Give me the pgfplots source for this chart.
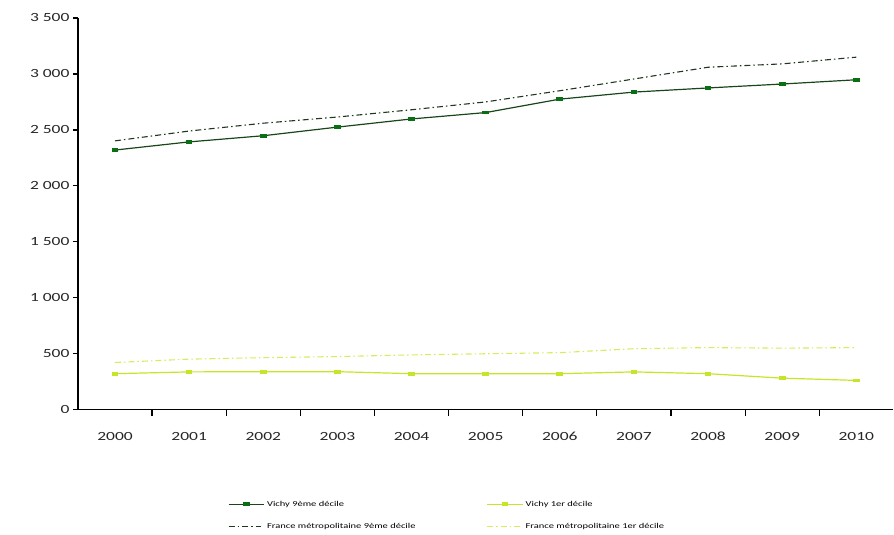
\documentclass[border=0pt]{standalone}
\usepackage{pgfplots}
\pgfplotsset{compat=1.18}
\usepackage{fontspec}
\setmainfont{Carlito}[FakeStretch=1.4]
\definecolor{dkgreen}{RGB}{25,70,25}
\definecolor{mkgreen}{RGB}{10,110,20}
\definecolor{frdark}{RGB}{30,55,30}
\definecolor{ltgreen}{RGB}{200,228,40}
\definecolor{frlight}{RGB}{215,236,90}
\begin{document}
\begin{tikzpicture}
\begin{axis}[name=ax,
  scale only axis, width=816pt, height=392pt,
  xmin=-0.5, xmax=10.5, ymin=0, ymax=3500,
  axis lines=left, axis line style={-, line width=1.2pt},
  xtick={0,...,10},
  xticklabels={2000,2001,2002,2003,2004,2005,2006,2007,2008,2009,2010},
  minor xtick={0.5,1.5,...,9.5},
  major x tick style={draw=none},
  minor tick length=6pt, major tick length=5pt,
  tick align=outside, tick style={black, line width=1.2pt},
  ytick={0,500,...,3500},
  /pgf/number format/assume math mode=true,
  /pgf/number format/1000 sep={\ },
  tick label style={font=\fontsize{12.5}{14}\selectfont, color=black!85},
  xticklabel style={yshift=-14pt},
  legend columns=2,
  legend cell align=left,
  legend style={draw=none, font=\fontsize{7.5}{8.5}\selectfont, at={(0.18,-0.222)}, anchor=north west,
    /tikz/every even column/.append style={column sep=69pt}, row sep=12pt},
  legend image code/.code={\draw[#1, mark repeat=2, mark phase=2] plot coordinates {(0pt,0pt) (18pt,0pt) (36pt,0pt)};},
]
\addplot[dkgreen, line width=1.2pt, mark=square*, mark size=1.7pt, mark options={fill=mkgreen, draw=mkgreen, xscale=1.6, yscale=0.75}]
 coordinates {(0,2320) (1,2393) (2,2448) (3,2525) (4,2598) (5,2655) (6,2775) (7,2838) (8,2875) (9,2910) (10,2948)};
\addlegendentry{Vichy 9ème décile}
\addplot[ltgreen, line width=1.2pt, mark=square*, mark size=1.7pt, mark options={fill=ltgreen, draw=ltgreen, xscale=1.6, yscale=0.75}]
 coordinates {(0,322) (1,338) (2,340) (3,340) (4,322) (5,322) (6,322) (7,338) (8,322) (9,282) (10,262)};
\addlegendentry{Vichy 1er décile}
\addplot[frdark, line width=1.1pt, dash pattern=on 6pt off 3pt on 1.5pt off 3pt]
 coordinates {(0,2402) (1,2490) (2,2560) (3,2615) (4,2680) (5,2750) (6,2850) (7,2955) (8,3060) (9,3090) (10,3150)};
\addlegendentry{France métropolitaine 9ème décile}
\addplot[frlight, line width=1.1pt, dash pattern=on 6pt off 3pt on 1.5pt off 3pt]
 coordinates {(0,422) (1,452) (2,465) (3,475) (4,490) (5,500) (6,510) (7,545) (8,555) (9,550) (10,555)};
\addlegendentry{France métropolitaine 1er décile}
\end{axis}
\path (ax.south west) ++(-78pt,-125pt) coordinate (a);
\path (ax.north east) ++(0pt,18pt) coordinate (b);
\path (a) rectangle (b);
\end{tikzpicture}
\end{document}
